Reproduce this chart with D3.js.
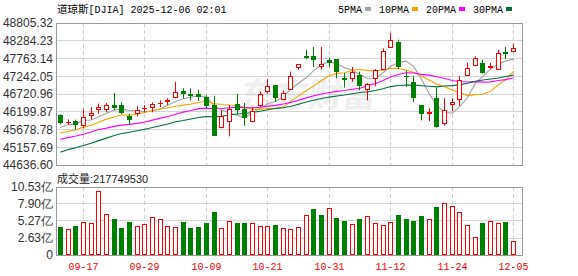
<!DOCTYPE html>
<html><head><meta charset="utf-8">
<script src="https://cdn.jsdelivr.net/npm/d3@7"></script>
<style>body{margin:0;background:#fff;} svg{display:block;}</style>
</head><body>
<svg id="c" width="578" height="276"></svg>
<script>
// ---------- data ----------
const dates = ["09-12","09-15","09-16","09-17","09-18","09-19","09-22","09-23","09-24","09-25","09-26","09-29","09-30",
"10-01","10-02","10-03","10-06","10-07","10-08","10-09","10-10","10-13","10-14","10-15","10-16","10-17","10-20","10-21","10-22","10-23","10-24","10-27","10-28","10-29","10-30","10-31",
"11-03","11-04","11-05","11-06","11-07","11-10","11-11","11-12","11-13","11-14","11-17","11-18","11-19","11-20","11-21","11-24","11-25","11-26","11-28",
"12-01","12-02","12-03","12-04","12-05"];
const open  = [46104,45890,45928,45772,46085,46241,46241,46398,46398,46085,46124,46280,46300,46418,46496,46613,46809,46731,46711,46633,
46408,45713,45889,46418,46280,45889,46359,46770,46985,46555,46848,47474,47827,47827,47514,47729,47748,47181,47161,47279,
46848,47161,47435,48081,48238,47259,47083,46398,46144,46594,45830,46398,46535,47259,47533,47631,47494,47435,47954,47944];
const high  = [46124,45977,45967,46271,46339,46437,46457,46750,46476,46144,46359,46398,46476,46535,46594,47083,46887,46887,46848,46692,
46672,46241,46398,46731,46457,46339,46789,47161,46985,46828,47376,47592,48022,48101,48101,47787,47748,47337,47513,47376,
47044,47455,48062,48512,48316,47416,47259,46398,46300,46907,46594,46594,47240,47631,47827,47729,47631,48022,48101,48199];
const low   = [45830,45821,45674,45713,45967,46144,46183,46241,46124,45821,46065,46183,46183,46339,46398,46594,46594,46535,46515,46300,
45498,45713,45478,46124,45791,45889,46339,46731,46496,46535,46848,47435,47748,47513,47435,47513,47181,46907,47083,46829,
46535,46946,47435,48081,47455,46926,46476,45948,45928,45732,45791,46222,46378,47259,47533,47318,47455,47435,47748,47944];
const close = [45869,45905,45811,46036,46163,46339,46398,46320,46163,45967,46261,46310,46418,46457,46535,46770,46731,46652,46633,46378,
45498,46065,46280,46261,46006,46222,46711,46965,46613,46750,47259,47592,47768,47709,47592,47631,47377,47142,47357,46965,
47005,47416,47983,48296,47514,47220,46613,46124,46183,45752,46241,46476,47142,47474,47787,47337,47533,47925,47885,48081];
// closes of the 29 sessions before the first candle (for moving averages)
const priorCloses = [43589,44174,44112,44193,43969,44176,43975,44459,44922,44911,
44946,44912,44922,44938,44786,45632,45282,45418,45565,45637,
45545,45296,45271,45621,45401,45515,45711,45490,46108];
// volume in 亿 (1e8)
const volumes = [4.34,3.98,4.49,5.11,4.96,9.86,6.30,5.58,4.18,5.11,4.44,4.75,5.83,5.52,4.44,4.28,5.11,4.18,4.34,4.96,
6.66,4.13,5.21,4.96,4.96,4.90,4.44,4.44,4.65,4.18,3.98,
4.28,6.14,7.12,6.20,7.23,5.73,5.27,4.75,5.58,5.99,4.96,4.59,5.11,6.20,5.58,5.27,6.04,5.52,7.43,
8.05,7.54,6.66,4.59,2.74,4.96,5.21,4.96,5.11,2.18];
const priceTicks = [48805.32,48284.23,47763.14,47242.05,46720.96,46199.87,45678.78,45157.69,44636.60];
const volTicks = [10.53,7.90,5.27,2.63,0];
const volTickLabels = ["10.53亿","7.90亿","5.27亿","2.63亿","0"];
const xTickLabels = ["09-17","09-29","10-09","10-21","10-31","11-12","11-24","12-05"];
const maPeriods = [5,10,20,30];
const maNames = ["5PMA","10PMA","20PMA","30PMA"];
const maColors = ["#a3a3a3","#f5a300","#ff00ff","#00703a"];
const titleCJK = "道琼斯", titleRest = "[DJIA] 2025-12-06 02:01";
const lastVolume = 217749530;

// ---------- layout ----------
const L = 56, R = 522, mTop = 23, mBot = 165, vTop = 187, vBot = 255;
const RED = "#ff0000", GREEN = "#008000";
const svg = d3.select("#c");

const x = d3.scaleBand().domain(dates).range([L, 517]);
const cx = d => Math.round(x(d) + x.bandwidth() / 2);
const y = d3.scaleLinear().domain([priceTicks[priceTicks.length-1], priceTicks[0]]).range([mBot, mTop]);
const vy = d3.scaleLinear().domain([0, volTicks[0]]).range([vBot, vTop]);
const crisp = v => Math.round(v) + 0.5;

// watermark
svg.append("text").attr("x", 240).attr("y", 107)
  .attr("font-family", "Noto Sans CJK SC").attr("font-weight", "bold").attr("font-size", 34)
  .attr("fill", "#efefef").attr("transform", "skewX(-8) translate(14,0)").text("东方财富");

// grids
const g = svg.append("g");
function hgrid(scale, ticks) {
  g.selectAll(null).data(ticks).enter().append("line")
    .attr("x1", L).attr("x2", R).attr("y1", d => crisp(scale(d) - 0.5)).attr("y2", d => crisp(scale(d) - 0.5))
    .attr("stroke", "#d4d4d4");
}
hgrid(y, priceTicks.slice(1, -1));
hgrid(vy, volTicks.slice(1, -1));
const tickDates = xTickLabels.filter(t => dates.includes(t));
[[mTop, mBot], [vTop, vBot]].forEach(([t, b]) => {
  g.selectAll(null).data(tickDates).enter().append("line")
    .attr("x1", d => cx(d) + 0.5).attr("x2", d => cx(d) + 0.5).attr("y1", t).attr("y2", b)
    .attr("stroke", "#cfcfcf").attr("stroke-dasharray", "4,3");
});

// frames
[[mTop, mBot], [vTop, vBot]].forEach(([t, b]) => {
  svg.append("rect").attr("x", L + 0.5).attr("y", t + 0.5).attr("width", R - L).attr("height", b - t)
    .attr("fill", "none").attr("stroke", "#999");
});

// axis labels
const axFont = "Liberation Sans, Arial, sans-serif";
svg.selectAll(null).data(priceTicks).enter().append("text")
  .attr("x", 53).attr("y", d => y(d)).attr("dy", "0.36em").attr("text-anchor", "end")
  .attr("font-family", axFont).attr("font-size", 12).attr("fill", "#333")
  .text(d => d.toFixed(2));
svg.selectAll(null).data(volTicks).enter().append("text")
  .attr("x", 53).attr("y", d => vy(d)).attr("dy", "0.36em").attr("text-anchor", "end")
  .attr("font-family", axFont).attr("font-size", 12).attr("fill", "#333")
  .text((d, i) => volTickLabels[i]);
svg.selectAll(null).data(tickDates).enter().append("text")
  .attr("x", d => cx(d) + 0.5).attr("y", 266).attr("dy", "0.36em").attr("text-anchor", "middle")
  .attr("font-family", "Liberation Mono, monospace").attr("font-size", 10).attr("fill", RED)
  .text(d => d);

// title
const tt = svg.append("text").attr("x", 57).attr("y", 12.5).attr("fill", "#000");
tt.append("tspan").attr("font-family", "Noto Sans CJK SC").attr("font-size", 10.5).text(titleCJK);
tt.append("tspan").attr("font-family", "Liberation Mono, monospace").attr("font-size", 10).text(titleRest);

// legend
let lx = 338;
maNames.forEach((n, k) => {
  svg.append("text").attr("x", lx).attr("y", 12.5).attr("font-family", "Liberation Mono, monospace")
    .attr("font-size", 10).attr("fill", "#000").text(n);
  const rx = lx + n.length * 6 + 3;
  svg.append("rect").attr("x", rx).attr("y", 7).attr("width", 6).attr("height", 4).attr("fill", maColors[k]);
  lx = rx + 6 + 8;
});

// volume title
const vt = svg.append("text").attr("x", 57).attr("y", 177).attr("dy", "0.36em").attr("fill", "#222");
vt.append("tspan").attr("font-family", "Noto Sans CJK SC").attr("font-size", 11).text("成交量");
vt.append("tspan").attr("font-family", axFont).attr("font-size", 11).text(":" + lastVolume);

// volume bars
const prevClose = i => i === 0 ? priorCloses[priorCloses.length - 1] : close[i - 1];
const vg = svg.append("g");
volumes.forEach((v, i) => {
  const X = cx(dates[i]);
  const up = close[i] >= prevClose(i);
  const top = Math.round(vy(v));
  if (up) {
    vg.append("rect").attr("x", X - 1.5).attr("y", top + 0.5).attr("width", 4).attr("height", vBot - top - 1)
      .attr("fill", "#fff").attr("stroke", RED);
  } else {
    vg.append("rect").attr("x", X - 2).attr("y", top).attr("width", 5).attr("height", vBot - top)
      .attr("fill", GREEN);
  }
});

// clip for main panel
svg.append("clipPath").attr("id", "mclip").append("rect").attr("x", L + 1).attr("y", mTop + 1)
  .attr("width", R - L - 1).attr("height", mBot - mTop - 1);

// moving averages
const allCloses = priorCloses.concat(close);
const off = priorCloses.length;
const mg = svg.append("g").attr("clip-path", "url(#mclip)");
maPeriods.forEach((p, k) => {
  const vals = close.map((c, i) => d3.mean(allCloses.slice(off + i - p + 1, off + i + 1)));
  mg.append("path").datum(vals)
    .attr("d", d3.line().x((d, i) => x(dates[i]) + x.bandwidth() / 2 + 0.5).y(d => y(d)))
    .attr("fill", "none").attr("stroke", maColors[k]).attr("stroke-width", 1.1);
});

// candles
const cg = svg.append("g").attr("clip-path", "url(#mclip)");
close.forEach((c, i) => {
  const X = cx(dates[i]);
  const o = open[i], up = c >= o;
  const yH = y(high[i]), yL = y(low[i]);
  const top = Math.round(y(Math.max(o, c))), bot = Math.round(y(Math.min(o, c)));
  const col = up ? RED : GREEN;
  if (up) {
    if (bot - top < 2) {
      cg.append("line").attr("x1", X + 0.5).attr("x2", X + 0.5).attr("y1", yH).attr("y2", yL).attr("stroke", col);
      cg.append("line").attr("x1", X - 2).attr("x2", X + 3).attr("y1", top + 0.5).attr("y2", top + 0.5).attr("stroke", col);
    } else {
      cg.append("line").attr("x1", X + 0.5).attr("x2", X + 0.5).attr("y1", yH).attr("y2", top).attr("stroke", col);
      cg.append("line").attr("x1", X + 0.5).attr("x2", X + 0.5).attr("y1", bot).attr("y2", yL).attr("stroke", col);
      cg.append("rect").attr("x", X - 1.5).attr("y", top + 0.5).attr("width", 4).attr("height", bot - top - 1)
        .attr("fill", "#fff").attr("stroke", col);
    }
  } else {
    cg.append("line").attr("x1", X + 0.5).attr("x2", X + 0.5).attr("y1", yH).attr("y2", yL).attr("stroke", col);
    cg.append("rect").attr("x", X - 2).attr("y", top).attr("width", 5).attr("height", Math.max(bot - top, 1))
      .attr("fill", col);
  }
});
</script>
</body></html>
